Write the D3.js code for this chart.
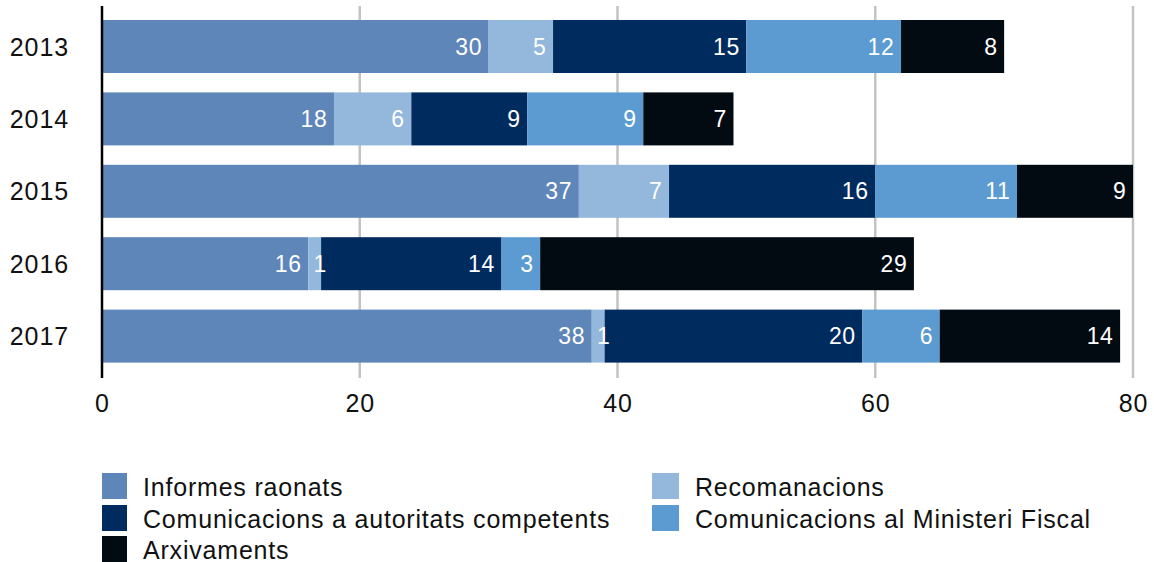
<!DOCTYPE html>
<html><head><meta charset="utf-8">
<script src="https://cdn.jsdelivr.net/npm/d3@7"></script>
<style>body{margin:0;background:#fff;} text{font-family:"Liberation Sans",Arial,Helvetica,sans-serif;}</style>
</head><body>
<svg id="c" width="1154" height="562"></svg>
<script>
const years = ["2013","2014","2015","2016","2017"];
const seriesNames = ["Informes raonats","Recomanacions","Comunicacions a autoritats competents","Comunicacions al Ministeri Fiscal","Arxivaments"];
const informes = [30,18,37,16,38];
const recomanacions = [5,6,7,1,1];
const autoritats = [15,9,16,14,20];
const ministeri = [12,9,11,3,6];
const arxivaments = [8,7,9,29,14];
const xTicks = [0,20,40,60,80];
const colors = ["#5e86b8","#94b7dc","#002b5f","#5b9bd1","#020a12"];

const series = [informes, recomanacions, autoritats, ministeri, arxivaments];
const svg = d3.select("#c");
const x = d3.scaleLinear().domain([0,80]).range([102,1133]);
const y = d3.scaleBand().domain(years).range([10.3,372.3]).paddingInner(0.268).paddingOuter(0.134);

// gridlines
svg.append("g").selectAll("line").data(xTicks.filter(d=>d>0)).join("line")
  .attr("x1",d=>x(d)).attr("x2",d=>x(d)).attr("y1",6).attr("y2",378)
  .attr("stroke","#c3c3c3").attr("stroke-width",2.5);

const rows = years.map((yr,i)=>{
  let acc=0;
  return series.map((s,k)=>{const v=s[i]; const r={yr,k,v,x0:acc,x1:acc+v}; acc+=v; return r;});
});
const segs = rows.flat();
svg.append("g").selectAll("rect").data(segs).join("rect")
  .attr("x",d=>x(d.x0)).attr("width",d=>x(d.x1)-x(d.x0))
  .attr("y",d=>y(d.yr)).attr("height",y.bandwidth())
  .attr("fill",d=>colors[d.k]);

svg.append("g").selectAll("text").data(segs).join("text")
  .attr("x",d=>{const w=x(d.x1)-x(d.x0); return w<20 ? x(d.x1)+6 : x(d.x1)-6.5;})
  .attr("y",d=>y(d.yr)+y.bandwidth()/2+8)
  .attr("text-anchor","end").attr("fill","#fff").attr("font-size",23)
  .attr("letter-spacing",0.7)
  .text(d=>d.v);

// axis line
svg.append("line").attr("x1",x(0)).attr("x2",x(0)).attr("y1",6).attr("y2",378)
  .attr("stroke","#000").attr("stroke-width",2.5);

// x tick labels
svg.append("g").selectAll("text").data(xTicks).join("text")
  .attr("x",d=>x(d)+0.5).attr("y",412).attr("text-anchor","middle")
  .attr("font-size",25).attr("letter-spacing",0.9).attr("fill","#111").text(d=>d);

// year labels
svg.append("g").selectAll("text").data(years).join("text")
  .attr("x",69).attr("y",d=>y(d)+y.bandwidth()/2+9).attr("text-anchor","end")
  .attr("font-size",25).attr("letter-spacing",0.9).attr("fill","#111").text(d=>d);

// legend
const legPos = [[102,473],[652,473],[102,505],[652,505],[102,536]];
const lg = svg.append("g").selectAll("g").data(seriesNames).join("g")
  .attr("transform",(d,i)=>`translate(${legPos[i][0]},${legPos[i][1]})`);
lg.append("rect").attr("width",(d,i)=>i%2===0?25:27).attr("height",26).attr("fill",(d,i)=>colors[i]);
lg.append("text").attr("x",(d,i)=>i%2===0?41:43).attr("y",23).attr("font-size",25)
  .attr("letter-spacing",0.8).attr("fill","#111").text(d=>d);
</script>
</body></html>
